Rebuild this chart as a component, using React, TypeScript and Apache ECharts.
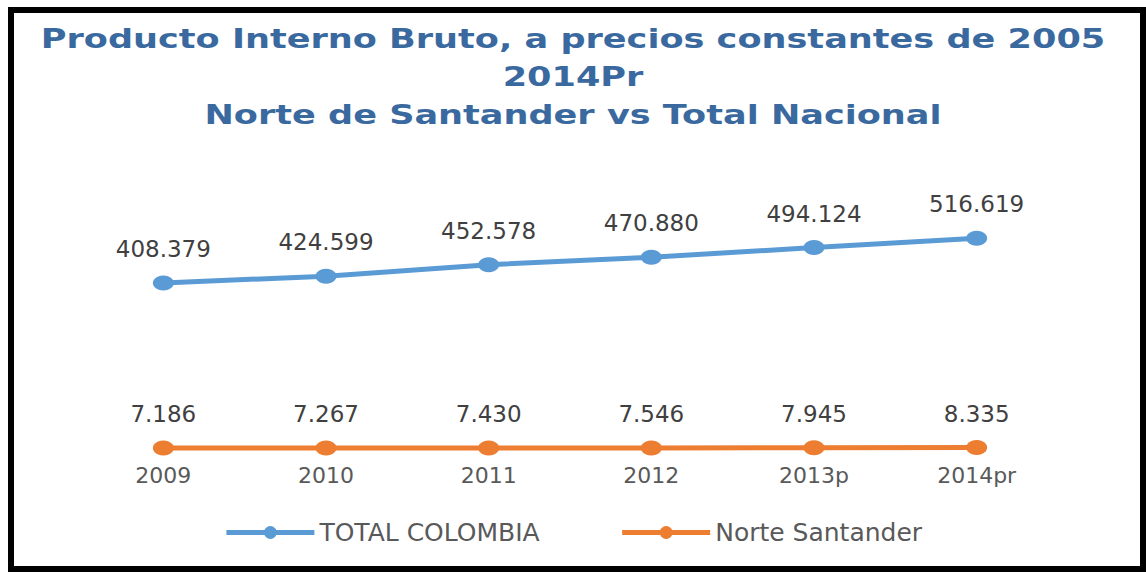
import React, { useEffect, useRef } from "react";
import * as echarts from "echarts";

const categories = ["2009", "2010", "2011", "2012", "2013p", "2014pr"];
const totalColombia = [408379, 424599, 452578, 470880, 494124, 516619];
const norteSantander = [7186, 7267, 7430, 7546, 7945, 8335];
const seriesNames = ["TOTAL COLOMBIA", "Norte Santander"];
const titleLines = [
  "Producto Interno Bruto, a precios constantes de 2005",
  "2014Pr",
  "Norte de Santander vs Total Nacional",
];

const fmt = (v: number) => {
  const s = Math.round(v).toString();
  return s.replace(/\B(?=(\d{3})+(?!\d))/g, ".");
};

const ELLIPSE = "path://M50,0 A50,50 0 1,1 49.99,0 Z";

export default function App() {
  const ref = useRef<HTMLDivElement>(null);
  useEffect(() => {
    if (!ref.current) return;
    const chart = echarts.init(ref.current, undefined, { renderer: "svg" });
    const titleY = [39, 77, 115];
    const labelStyle = {
      show: true,
      position: "top" as const,
      distance: 15,
      color: "#404040",
      fontSize: 23,
      fontFamily: "DejaVu Sans",
      formatter: (p: any) => fmt(p.value),
    };
    chart.setOption({
      animation: false,
      backgroundColor: "#ffffff",
      graphic: [
        {
          type: "rect",
          shape: { x: 11, y: 10, width: 1132, height: 559 },
          style: { fill: "none", stroke: "#000000", lineWidth: 6 },
          silent: true,
        },
        ...titleLines.map((t, i) => ({
          type: "text",
          x: 573,
          y: titleY[i],
          scaleX: 1.3,
          style: {
            text: t,
            textAlign: "center",
            textVerticalAlign: "middle",
            align: "center",
            verticalAlign: "middle",
            fill: "#3A69A0",
            font: "bold 27px 'DejaVu Sans'",
          },
        })),
      ],
      grid: { left: 82, right: 88, top: 204, bottom: 121 },
      legend: {
        data: seriesNames,
        top: 515,
        left: "center",
        itemWidth: 88,
        itemHeight: 16,
        itemGap: 80,
        lineStyle: { width: 5 },
        textStyle: { color: "#595959", fontSize: 25, fontFamily: "DejaVu Sans" },
      },
      xAxis: {
        type: "category",
        data: categories,
        boundaryGap: true,
        axisLine: { show: false },
        axisTick: { show: false },
        splitLine: { show: false },
        axisLabel: {
          color: "#595959",
          fontSize: 22,
          fontFamily: "DejaVu Sans",
          margin: 13,
        },
      },
      yAxis: {
        type: "value",
        min: 0,
        max: 600000,
        show: false,
        splitLine: { show: false },
      },
      series: [
        {
          name: seriesNames[0],
          type: "line",
          data: totalColombia,
          symbol: ELLIPSE,
          symbolSize: [21, 15],
          color: "#5B9BD5",
          lineStyle: { width: 5, color: "#5B9BD5" },
          itemStyle: { color: "#5B9BD5" },
          label: labelStyle,
        },
        {
          name: seriesNames[1],
          type: "line",
          data: norteSantander,
          symbol: ELLIPSE,
          symbolSize: [21, 15],
          color: "#ED7D31",
          lineStyle: { width: 5, color: "#ED7D31" },
          itemStyle: { color: "#ED7D31" },
          label: labelStyle,
        },
      ],
    });
    return () => chart.dispose();
  }, []);
  return (
    <div
      ref={ref}
      style={{ position: "absolute", left: 0, top: 0, width: 1146, height: 572 }}
    />
  );
}
